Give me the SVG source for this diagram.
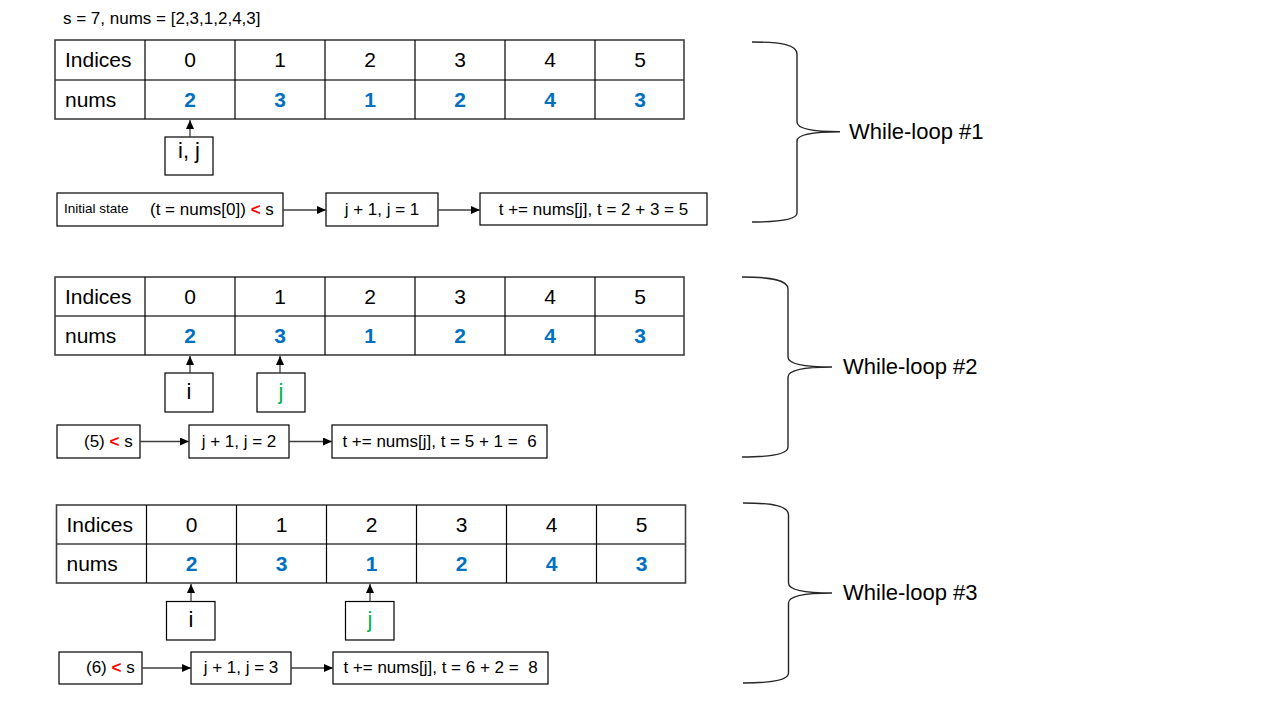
<svg xmlns="http://www.w3.org/2000/svg" width="1280" height="720" viewBox="0 0 1280 720">
<style>
text{font-family:"Liberation Sans",Arial,sans-serif;fill:#000}
.hdr{font-size:17px}
.cell{font-size:21px}
.c{text-anchor:middle}
.blue{fill:#0070C0;font-weight:bold}
.green{fill:#00B050}
.red{fill:#FF0000;font-weight:bold}
.ptr{font-size:22px}
.box{font-size:17px}
.small{font-size:13.5px}
.loop{font-size:22px}
.tbl{fill:#fff;stroke:#404040;stroke-width:1.6}
.vl{stroke:#000;stroke-width:1.2}
.hl{stroke:#404040;stroke-width:1.6}
.nb{fill:#fff;stroke:#000;stroke-width:1.2}
.con{stroke:#404040;stroke-width:1.3;fill:none}
.brace{fill:none;stroke:#262626;stroke-width:1.4}
</style>
<defs>
<marker id="ah" markerUnits="userSpaceOnUse" markerWidth="9" markerHeight="8" viewBox="0 0 9 8" refX="9" refY="4" orient="auto">
<path d="M0,0 L9,4 L0,8 Z" fill="#000"/>
</marker>
</defs>

<text class="hdr" x="63" y="24">s = 7, nums = [2,3,1,2,4,3]</text>

<!-- Table 1 -->
<g id="table1">
<rect class="tbl" x="55" y="40" width="629" height="79"/>
<line class="hl" x1="55" y1="80" x2="684" y2="80"/>
<line class="vl" x1="145" y1="40" x2="145" y2="119"/>
<line class="vl" x1="235" y1="40" x2="235" y2="119"/>
<line class="vl" x1="325" y1="40" x2="325" y2="119"/>
<line class="vl" x1="415" y1="40" x2="415" y2="119"/>
<line class="vl" x1="505" y1="40" x2="505" y2="119"/>
<line class="vl" x1="595" y1="40" x2="595" y2="119"/>
<text class="cell" x="65" y="67">Indices</text>
<text class="cell c" x="190" y="67">0</text>
<text class="cell c" x="280" y="67">1</text>
<text class="cell c" x="370" y="67">2</text>
<text class="cell c" x="460" y="67">3</text>
<text class="cell c" x="550" y="67">4</text>
<text class="cell c" x="640" y="67">5</text>
<text class="cell" x="65" y="107">nums</text>
<text class="cell c blue" x="190" y="107">2</text>
<text class="cell c blue" x="280" y="107">3</text>
<text class="cell c blue" x="370" y="107">1</text>
<text class="cell c blue" x="460" y="107">2</text>
<text class="cell c blue" x="550" y="107">4</text>
<text class="cell c blue" x="640" y="107">3</text>
</g>

<!-- Table 2 -->
<g id="table2">
<rect class="tbl" x="55" y="277" width="629" height="78"/>
<line class="hl" x1="55" y1="316" x2="684" y2="316"/>
<line class="vl" x1="145" y1="277" x2="145" y2="355"/>
<line class="vl" x1="235" y1="277" x2="235" y2="355"/>
<line class="vl" x1="325" y1="277" x2="325" y2="355"/>
<line class="vl" x1="415" y1="277" x2="415" y2="355"/>
<line class="vl" x1="505" y1="277" x2="505" y2="355"/>
<line class="vl" x1="595" y1="277" x2="595" y2="355"/>
<text class="cell" x="65" y="304">Indices</text>
<text class="cell c" x="190" y="304">0</text>
<text class="cell c" x="280" y="304">1</text>
<text class="cell c" x="370" y="304">2</text>
<text class="cell c" x="460" y="304">3</text>
<text class="cell c" x="550" y="304">4</text>
<text class="cell c" x="640" y="304">5</text>
<text class="cell" x="65" y="343">nums</text>
<text class="cell c blue" x="190" y="343">2</text>
<text class="cell c blue" x="280" y="343">3</text>
<text class="cell c blue" x="370" y="343">1</text>
<text class="cell c blue" x="460" y="343">2</text>
<text class="cell c blue" x="550" y="343">4</text>
<text class="cell c blue" x="640" y="343">3</text>
</g>

<!-- Table 3 -->
<g id="table3">
<rect class="tbl" x="56.5" y="505" width="629" height="78"/>
<line class="hl" x1="56.5" y1="544" x2="685.5" y2="544"/>
<line class="vl" x1="146.5" y1="505" x2="146.5" y2="583"/>
<line class="vl" x1="236.5" y1="505" x2="236.5" y2="583"/>
<line class="vl" x1="326.5" y1="505" x2="326.5" y2="583"/>
<line class="vl" x1="416.5" y1="505" x2="416.5" y2="583"/>
<line class="vl" x1="506.5" y1="505" x2="506.5" y2="583"/>
<line class="vl" x1="596.5" y1="505" x2="596.5" y2="583"/>
<text class="cell" x="66.5" y="532">Indices</text>
<text class="cell c" x="191.5" y="532">0</text>
<text class="cell c" x="281.5" y="532">1</text>
<text class="cell c" x="371.5" y="532">2</text>
<text class="cell c" x="461.5" y="532">3</text>
<text class="cell c" x="551.5" y="532">4</text>
<text class="cell c" x="641.5" y="532">5</text>
<text class="cell" x="66.5" y="571">nums</text>
<text class="cell c blue" x="191.5" y="571">2</text>
<text class="cell c blue" x="281.5" y="571">3</text>
<text class="cell c blue" x="371.5" y="571">1</text>
<text class="cell c blue" x="461.5" y="571">2</text>
<text class="cell c blue" x="551.5" y="571">4</text>
<text class="cell c blue" x="641.5" y="571">3</text>
</g>

<!-- Pointer nodes -->
<g id="ptr1-ij"><rect class="nb" x="165" y="137" width="48" height="38"/><text class="ptr c" x="189" y="158">i, j</text></g>
<g id="ptr2-i"><rect class="nb" x="165" y="373" width="48" height="39"/><text class="ptr c" x="189" y="399">i</text></g>
<g id="ptr2-j"><rect class="nb" x="257" y="373" width="48" height="39"/><text class="ptr c green" x="281" y="399">j</text></g>
<g id="ptr3-i"><rect class="nb" x="166.5" y="601.5" width="48.5" height="38.5"/><text class="ptr c" x="191" y="627">i</text></g>
<g id="ptr3-j"><rect class="nb" x="345.5" y="601.5" width="48.5" height="38.5"/><text class="ptr c green" x="370" y="627">j</text></g>

<!-- Step nodes row 1 -->
<g id="r1-a"><rect class="nb" x="57" y="193" width="226" height="33"/>
<text class="small" x="64" y="213">Initial state</text>
<text class="box" x="150" y="215">(t = nums[0]) <tspan class="red">&lt;</tspan> s</text></g>
<g id="r1-b"><rect class="nb" x="326" y="193" width="112" height="33"/><text class="box c" x="382" y="215">j + 1, j = 1</text></g>
<g id="r1-c"><rect class="nb" x="480" y="193" width="227" height="32"/><text class="box c" x="593.5" y="215">t += nums[j], t = 2 + 3 = 5</text></g>

<!-- Step nodes row 2 -->
<g id="r2-a"><rect class="nb" x="57" y="425" width="83" height="33"/><text class="box" x="84" y="447">(5) <tspan class="red">&lt;</tspan> s</text></g>
<g id="r2-b"><rect class="nb" x="189" y="425" width="100" height="33"/><text class="box c" x="239" y="447">j + 1, j = 2</text></g>
<g id="r2-c"><rect class="nb" x="332" y="425" width="215" height="33"/><text class="box c" x="439.5" y="447" xml:space="preserve">t += nums[j], t = 5 + 1 =  6</text></g>

<!-- Step nodes row 3 -->
<g id="r3-a"><rect class="nb" x="59" y="652" width="83" height="32"/><text class="box" x="86" y="673">(6) <tspan class="red">&lt;</tspan> s</text></g>
<g id="r3-b"><rect class="nb" x="191" y="652" width="100" height="32"/><text class="box c" x="241" y="673">j + 1, j = 3</text></g>
<g id="r3-c"><rect class="nb" x="333" y="652" width="215" height="32"/><text class="box c" x="440.5" y="673" xml:space="preserve">t += nums[j], t = 6 + 2 =  8</text></g>

<!-- Braces and labels -->
<g id="loop1">
<path class="brace" d="M752,42 C782,42 797,45 797,54 L797,122 C797,129 812,131.7 840,131.7 C812,131.7 797,134.5 797,141 L797,213 C797,219 782,222 752,222"/>
<text class="loop" x="849" y="139">While-loop #1</text>
</g>
<g id="loop2">
<path class="brace" d="M742,277 C772,277 788,280 788,289 L788,357 C788,364 804,367 832,367 C804,367 788,370 788,377 L788,447 C788,454 772,457 742,457"/>
<text class="loop" x="843" y="374">While-loop #2</text>
</g>
<g id="loop3">
<path class="brace" d="M743,503 C773,503 788.5,506 788.5,515 L788.5,583 C788.5,590 805,593 832,593 C805,593 788.5,596 788.5,603 L788.5,673 C788.5,680 773,683 743,683"/>
<text class="loop" x="843" y="600">While-loop #3</text>
</g>

<!-- Connectors -->
<g id="connectors">
<line class="con" x1="190" y1="137" x2="190" y2="120" marker-end="url(#ah)"/>
<line class="con" x1="190" y1="373" x2="190" y2="356" marker-end="url(#ah)"/>
<line class="con" x1="280" y1="373" x2="280" y2="356" marker-end="url(#ah)"/>
<line class="con" x1="191" y1="601.5" x2="191" y2="584" marker-end="url(#ah)"/>
<line class="con" x1="370" y1="601.5" x2="370" y2="584" marker-end="url(#ah)"/>
<line class="con" x1="283" y1="210" x2="326" y2="210" marker-end="url(#ah)"/>
<line class="con" x1="438" y1="210" x2="480" y2="210" marker-end="url(#ah)"/>
<line class="con" x1="140" y1="441.5" x2="189" y2="441.5" marker-end="url(#ah)"/>
<line class="con" x1="289" y1="441.5" x2="332" y2="441.5" marker-end="url(#ah)"/>
<line class="con" x1="142" y1="668" x2="191" y2="668" marker-end="url(#ah)"/>
<line class="con" x1="291" y1="668" x2="333" y2="668" marker-end="url(#ah)"/>
</g>
</svg>
